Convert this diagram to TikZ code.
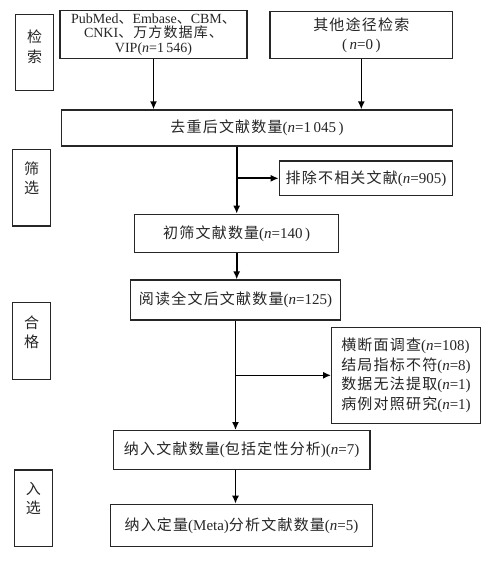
\documentclass[tikz,border=0pt]{standalone}
\usepackage{fontspec}
\setmainfont{Liberation Serif}
\newfontfamily\cjk[LetterSpace=8]{Noto Sans CJK SC}
\usetikzlibrary{arrows.meta}
\newcommand\zh[1]{{\cjk #1}}
\newcommand\nn{\textit{n}}
\begin{document}
\begin{tikzpicture}[x=1pt,y=-1pt,
  box/.style={draw=black!85, line width=1.2pt, inner sep=0pt, align=center,
    font=\fontsize{15}{14.5}\selectfont, text=black!85},
  side/.style={draw=black!85, line width=1.2pt, inner sep=0pt, minimum width=37.6pt, minimum height=76.6pt},
  lbl/.style={inner sep=0pt, align=center, font=\fontsize{15}{19.5}\selectfont, text=black!85},
  arr/.style={line width=1.6pt, -{Latex[length=8pt,width=7pt]}}]
\useasboundingbox (0,0) rectangle (494,561);
\fill[white] (0,0) rectangle (494,561);
% side boxes
\node[side] (s1) at (34.5,52.5) {};
\node[lbl] (s1t) at (34.5,46.7) {\zh{检}\\\zh{索}};
\node[side] (s2) at (31.5,187.7) {};
\node[lbl] (s2t) at (31.5,178.5) {\zh{筛}\\\zh{选}};
\node[side] (s3) at (31.5,340.8) {};
\node[lbl] (s3t) at (31.5,332.3) {\zh{合}\\\zh{格}};
\node[side] (s4) at (33.3,508.3) {};
\node[lbl] (s4t) at (33.3,498.5) {\zh{入}\\\zh{选}};
% main boxes
\node[box, minimum width=187pt, minimum height=47.6pt, font=\fontsize{14}{14.8}\selectfont] (pub) at (153.5,34.5)
  {PubMed\zh{、}Embase\zh{、}CBM\zh{、}\\CNKI\zh{、万方数据库、}\\VIP(\nn=1\,546)};
\node[box, minimum width=182.7pt, minimum height=46.6pt, font=\fontsize{15}{19}\selectfont] (oth) at (361.3,35)
  {\zh{其他途径检索}\\(\,\nn=0\,)};
\node[box, minimum width=390.6pt, minimum height=36pt] (dedup) at (257,128)
  {\zh{去重后文献数量}(\nn=1\,045\,)};
\node[box, minimum width=173.4pt, minimum height=34.7pt] (ex1) at (366,178.3)
  {\zh{排除不相关文献}(\nn=905)};
\node[box, minimum width=204pt, minimum height=38.4pt] (init) at (236.7,233.5)
  {\zh{初筛文献数量}(\nn=140\,)};
\node[box, minimum width=210.4pt, minimum height=40pt] (full) at (235.5,300)
  {\zh{阅读全文后文献数量}(\nn=125)};
\node[box, minimum width=148.6pt, minimum height=96pt, align=left, font=\fontsize{15}{19.5}\selectfont] (ex2) at (406,375.3)
  {\zh{横断面调查}(\nn=108)\\\zh{结局指标不符}(\nn=8)\\\zh{数据无法提取}(\nn=1)\\\zh{病例对照研究}(\nn=1)};
\node[box, minimum width=256.7pt, minimum height=38.6pt] (incl) at (241.7,450)
  {\zh{纳入文献数量}(\zh{包括定性分析})(\nn=7)};
\node[box, minimum width=261.6pt, minimum height=42.4pt] (meta) at (241.5,525.5)
  {\zh{纳入定量}(Meta)\zh{分析文献数量}(\nn=5)};
% connectors
\draw[arr] (pub.south) -- (pub.south |- dedup.north);
\draw[arr] (oth.south) -- (oth.south |- dedup.north);
\draw[arr] (init.north |- dedup.south) -- (init.north);
\draw[arr] (init.north |- ex1.west) -- (ex1.west);
\draw[arr] (init.south) -- (init.south |- full.north);
\draw[arr] (full.south) -- (full.south |- incl.north);
\draw[arr] (full.south |- ex2.west) -- (ex2.west);
\draw[arr] (full.south |- incl.south) -- (full.south |- meta.north);
\end{tikzpicture}
\end{document}
